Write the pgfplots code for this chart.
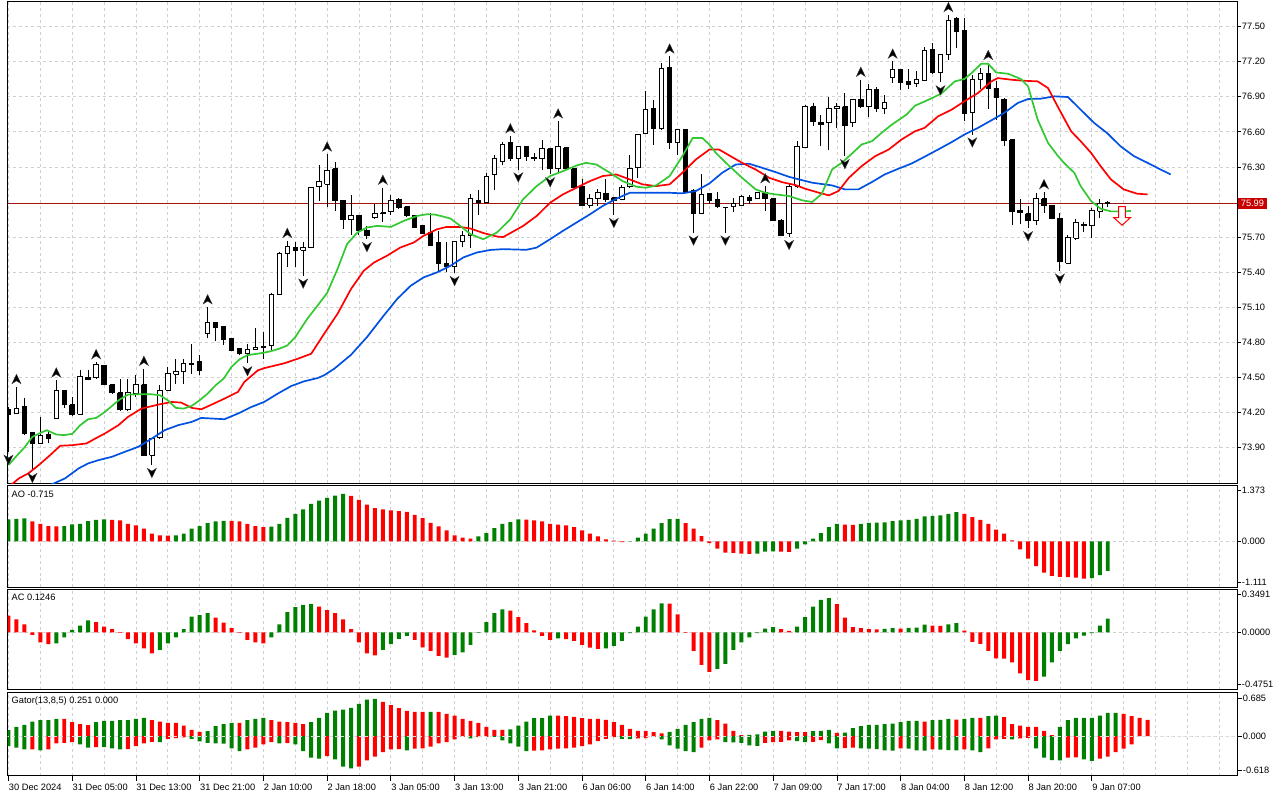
\documentclass[border=0pt]{standalone}
\usepackage{fontspec}
\setmainfont{Liberation Sans}
\usepackage{pgfplots}
\usepackage{pgfplotstable}
\pgfplotsset{compat=1.18}

\definecolor{mtgreen}{RGB}{0,128,0}
\definecolor{mtred}{RGB}{255,0,0}
\definecolor{jawblue}{RGB}{0,80,225}
\definecolor{teethred}{RGB}{255,0,0}
\definecolor{lipsgreen}{RGB}{50,200,50}
\definecolor{gridgray}{RGB}{208,208,208}
\definecolor{pxline}{RGB}{160,20,20}
\definecolor{pxbox}{RGB}{200,0,0}

\newcommand\mtf{\fontsize{9.3bp}{11bp}\selectfont}

\pgfdeclareplotmark{fup}{%
  \pgfpathmoveto{\pgfpoint{0bp}{12.7bp}}%
  \pgfpathlineto{\pgfpoint{4.5bp}{3.3bp}}%
  \pgfpathlineto{\pgfpoint{0bp}{6.2bp}}%
  \pgfpathlineto{\pgfpoint{-4.5bp}{3.3bp}}%
  \pgfpathclose
  \pgfusepathqfillstroke}
\pgfdeclareplotmark{fdown}{%
  \pgfpathmoveto{\pgfpoint{0bp}{-12.7bp}}%
  \pgfpathlineto{\pgfpoint{4.5bp}{-3.3bp}}%
  \pgfpathlineto{\pgfpoint{0bp}{-6.2bp}}%
  \pgfpathlineto{\pgfpoint{-4.5bp}{-3.3bp}}%
  \pgfpathclose
  \pgfusepathqfillstroke}
\pgfdeclareplotmark{sellarrow}{%
  \pgfpathmoveto{\pgfpoint{-3.4bp}{9.4bp}}%
  \pgfpathlineto{\pgfpoint{3.4bp}{9.4bp}}%
  \pgfpathlineto{\pgfpoint{3.4bp}{-1.6bp}}%
  \pgfpathlineto{\pgfpoint{8.5bp}{-1.6bp}}%
  \pgfpathlineto{\pgfpoint{0bp}{-9.3bp}}%
  \pgfpathlineto{\pgfpoint{-8.5bp}{-1.6bp}}%
  \pgfpathlineto{\pgfpoint{-3.4bp}{-1.6bp}}%
  \pgfpathclose
  \pgfusepathqfillstroke}

% ---------- candles (H1) ----------
\pgfplotstableread{
k o h l c
0 74.224 74.247 73.863 74.185
1 74.193 74.418 74.187 74.233
2 74.247 74.324 74.006 74.020
3 74.028 74.034 73.707 73.935
4 73.935 74.162 73.935 74.006
5 74.011 74.054 73.935 73.977
6 74.148 74.474 74.142 74.384
7 74.384 74.389 74.241 74.267
8 74.267 74.332 74.170 74.182
9 74.185 74.565 74.182 74.511
10 74.503 74.560 74.474 74.483
11 74.497 74.631 74.489 74.608
12 74.602 74.608 74.432 74.438
13 74.438 74.443 74.361 74.369
14 74.369 74.489 74.210 74.224
15 74.224 74.489 74.210 74.367
16 74.361 74.517 74.332 74.438
17 74.438 74.574 73.835 73.835
18 73.835 73.983 73.750 73.977
19 73.983 74.432 73.977 74.389
20 74.389 74.588 74.381 74.531
21 74.528 74.659 74.446 74.546
22 74.546 74.659 74.446 74.617
23 74.622 74.787 74.531 74.608
24 74.640 74.688 74.517 74.560
25 74.872 75.100 74.835 74.966
26 74.966 74.972 74.815 74.929
27 74.935 74.938 74.778 74.824
28 74.835 74.841 74.722 74.730
29 74.744 74.750 74.688 74.707
30 74.707 74.787 74.620 74.736
31 74.739 74.920 74.730 74.758
32 74.767 74.892 74.660 74.753
33 74.773 75.222 74.730 75.213
34 75.213 75.574 75.208 75.563
35 75.560 75.668 75.446 75.620
36 75.611 75.654 75.446 75.588
37 75.586 75.654 75.370 75.611
38 75.608 76.131 75.603 76.123
39 76.131 76.313 76.009 76.174
40 76.151 76.407 75.961 76.273
41 76.285 76.344 75.924 76.009
42 76.015 76.020 75.773 75.847
43 75.850 76.057 75.716 75.887
44 75.887 75.892 75.716 75.753
45 75.759 75.796 75.682 75.711
46 75.867 75.981 75.858 75.901
47 75.910 76.123 75.830 75.901
48 75.918 76.057 75.890 76.015
49 76.023 76.037 75.944 75.952
50 75.961 75.966 75.875 75.881
51 75.887 75.892 75.776 75.782
52 75.796 75.802 75.725 75.730
53 75.739 75.910 75.625 75.631
54 75.654 75.753 75.404 75.475
55 75.475 75.654 75.398 75.446
56 75.449 75.668 75.392 75.662
57 75.659 75.753 75.611 75.716
58 75.716 76.066 75.605 76.029
59 76.017 76.103 75.887 76.000
60 76.000 76.251 76.000 76.222
61 76.236 76.398 76.102 76.370
62 76.350 76.511 76.313 76.490
63 76.506 76.563 76.355 76.372
64 76.369 76.477 76.278 76.472
65 76.472 76.477 76.355 76.392
66 76.384 76.415 76.349 76.369
67 76.369 76.534 76.278 76.455
68 76.457 76.463 76.236 76.284
69 76.284 76.690 76.256 76.472
70 76.463 76.466 76.278 76.284
71 76.284 76.293 76.114 76.122
72 76.136 76.193 75.974 75.974
73 75.974 76.065 75.946 76.028
74 76.028 76.114 75.966 76.079
75 76.074 76.193 76.000 76.023
76 76.037 76.045 75.889 76.017
77 76.023 76.142 76.017 76.122
78 76.131 76.398 76.122 76.284
79 76.293 76.577 76.207 76.577
80 76.582 76.946 76.582 76.790
81 76.796 76.875 76.491 76.625
82 76.625 77.188 76.619 77.145
83 77.154 77.245 76.455 76.511
84 76.511 76.625 76.398 76.619
85 76.619 76.625 76.079 76.079
86 76.102 76.108 75.738 75.900
87 75.900 76.236 75.895 76.065
88 76.071 76.071 75.980 76.017
89 76.023 76.085 75.946 75.960
90 75.957 75.957 75.738 75.952
91 75.960 76.037 75.915 75.986
92 75.974 76.057 75.966 76.051
93 76.037 76.060 75.980 76.017
94 76.028 76.088 76.023 76.079
95 76.079 76.136 75.923 76.028
96 76.028 76.028 75.838 75.844
97 75.846 75.852 75.710 75.710
98 75.733 76.151 75.700 76.136
99 76.136 76.520 76.122 76.472
100 76.463 76.833 76.460 76.813
101 76.813 76.847 76.654 76.690
102 76.682 76.747 76.477 76.662
103 76.676 76.898 76.443 76.804
104 76.796 76.847 76.634 76.813
105 76.813 76.932 76.392 76.654
106 76.676 76.881 76.642 76.881
107 76.881 77.046 76.804 76.813
108 76.813 77.012 76.728 76.966
109 76.966 76.981 76.767 76.804
110 76.804 76.918 76.753 76.855
111 77.069 77.202 77.018 77.137
112 77.131 77.131 76.955 77.023
113 77.029 77.137 76.966 77.009
114 77.018 77.117 76.983 77.052
115 77.040 77.330 77.040 77.296
116 77.302 77.364 77.097 77.108
117 77.108 77.259 77.023 77.259
118 77.259 77.600 77.216 77.552
119 77.572 77.580 77.316 77.458
120 77.464 77.572 76.691 76.756
121 76.767 77.089 76.577 77.046
122 77.046 77.150 76.966 77.103
123 77.097 77.190 76.796 76.975
124 76.975 77.032 76.705 76.898
125 76.881 76.890 76.483 76.529
126 76.534 76.534 75.800 75.918
127 75.929 76.028 75.810 75.909
128 75.901 75.966 75.775 75.838
129 75.838 76.074 75.801 76.028
130 76.028 76.085 75.909 75.972
131 75.972 75.972 75.852 75.858
132 75.861 75.909 75.412 75.489
133 75.477 75.716 75.469 75.696
134 75.690 75.858 75.676 75.824
135 75.795 75.832 75.747 75.804
136 75.795 75.952 75.690 75.929
137 75.923 76.023 75.866 75.989
138 75.988 76.008 75.960 75.994
}\candles

% ---------- alligator ----------
\pgfplotstableread{
k v
0 73.440
3 73.520
5.7 73.593
7.1 73.636
8.8 73.721
10 73.764
11.3 73.792
13 73.821
14.6 73.863
16.3 73.906
18 73.977
19.6 74.048
21.3 74.091
23 74.119
24.2 74.153
25.5 74.148
27.1 74.142
28.8 74.190
30.5 74.247
32.1 74.290
33.8 74.361
35.5 74.426
37.1 74.466
38.8 74.494
39.6 74.517
40.9 74.574
43 74.693
45 74.844
47.1 75.028
48.8 75.171
50.5 75.284
52.1 75.355
53.8 75.398
55.5 75.455
57.1 75.526
58.8 75.568
60.5 75.590
62.1 75.597
65 75.591
66.3 75.610
68 75.682
69.6 75.753
71.3 75.824
73 75.895
74.6 75.966
76.3 76.028
78 76.079
80.5 76.079
83 76.079
84.6 76.074
86.3 76.094
88 76.159
89.6 76.250
91.3 76.321
93 76.327
94.6 76.293
96.3 76.256
98 76.215
99.6 76.187
100.9 76.165
103.4 76.142
105 76.108
106.7 76.108
108.4 76.171
110 76.236
111.7 76.284
113.4 76.330
115 76.387
116.7 76.449
118.4 76.512
120 76.577
121.7 76.634
123.4 76.699
125 76.762
126.7 76.847
128 76.881
129.6 76.884
131.3 76.904
133 76.898
134.6 76.790
136.3 76.676
138 76.585
139.6 76.477
141.3 76.392
143 76.335
144.6 76.279
145.9 76.236
}\jaw

\pgfplotstableread{
k v
0 73.560
1.3 73.636
2.5 73.679
3.8 73.750
5 73.821
6.5 73.915
8 73.920
9.8 73.935
10.9 73.977
12.1 74.020
13.8 74.091
15 74.162
16.7 74.233
18.8 74.267
20.5 74.290
21.7 74.284
23 74.239
24.2 74.227
25.5 74.267
27.1 74.318
28.8 74.375
29.6 74.460
31.3 74.560
32.1 74.579
34.6 74.620
36.3 74.659
38 74.702
39.6 74.870
41.3 75.043
43 75.256
44.6 75.412
45.9 75.483
47.5 75.540
49.2 75.611
50.9 75.654
52.1 75.711
53.8 75.767
55 75.787
56.7 75.787
58 75.773
59.6 75.735
61.3 75.705
62.1 75.700
64.6 75.795
66.3 75.880
68 75.994
69.6 76.065
71.3 76.122
73 76.179
74.6 76.222
76.3 76.236
78 76.193
79.6 76.151
81.3 76.136
83 76.151
84.6 76.250
86.3 76.364
88 76.449
89.2 76.449
90.5 76.398
92.1 76.335
93.8 76.278
95.5 76.207
97.1 76.170
98.8 76.145
100 76.114
101.7 76.080
103 76.057
104.2 76.094
105.5 76.207
107.1 76.307
108.8 76.392
110.5 76.449
112.1 76.534
113.8 76.605
115 76.634
116.7 76.733
118.4 76.790
120 76.861
121.7 76.932
123.4 77.032
124.2 77.060
125.9 77.046
127.5 77.037
129.2 77.032
130.5 76.975
131.7 76.819
133.4 76.605
134.6 76.520
135.9 76.421
137.1 76.307
138.4 76.193
140 76.108
141.7 76.071
143 76.065
}\teeth

\pgfplotstableread{
k v
0 73.750
1 73.827
2 73.900
3 73.991
4 74.025
4.8 74.048
6 74.011
7 74.006
8 74.017
9 74.091
10 74.142
11 74.153
12 74.199
13 74.256
14 74.313
15 74.352
16 74.355
18 74.355
19 74.347
20 74.304
21 74.239
22 74.233
23 74.256
24 74.304
25 74.361
26 74.432
27 74.489
28 74.590
29 74.654
30 74.690
31 74.700
32 74.710
33 74.725
34 74.745
35 74.773
36 74.844
37.5 75.000
38.8 75.114
40 75.222
41.3 75.426
42.5 75.640
43.8 75.739
45 75.782
46.3 75.796
48 75.787
49.6 75.838
51.3 75.881
52.5 75.895
53.5 75.893
54.6 75.875
55.5 75.858
56.7 75.796
58 75.725
59.6 75.682
61.3 75.738
63 75.852
64.6 76.023
66.3 76.136
68 76.222
69.6 76.264
71.3 76.312
72.5 76.335
73.8 76.321
75.5 76.250
77.1 76.179
78.8 76.131
80 76.122
81.3 76.142
83 76.222
84.6 76.392
85.9 76.548
87.1 76.548
88 76.491
88.8 76.420
90.5 76.307
92.1 76.207
93.8 76.108
95 76.079
96.3 76.065
98 76.051
99.6 76.015
100.9 76.000
102.1 76.070
103.4 76.279
104.6 76.335
105.9 76.415
107.1 76.492
108.4 76.520
109.6 76.591
110.9 76.662
112.75 76.748
113.8 76.824
115.5 76.875
117.1 76.927
118.8 77.032
120 77.052
120.9 77.103
122.1 77.182
123 77.182
124 77.108
125.5 77.097
127.1 77.052
128 76.989
129.2 76.705
130.5 76.506
131.7 76.398
132.5 76.335
133.8 76.250
134.6 76.136
135.9 76.009
137.1 75.943
138.4 75.920
139.6 75.920
140.9 75.923
}\lips

\pgfplotstableread{
k v
1 74.418
6 74.474
11 74.631
17 74.574
25 75.100
35 75.668
40 76.407
47 76.123
63 76.563
69 76.690
83 77.245
95 76.136
107 77.046
111 77.202
118 77.600
123 77.190
130 76.085
}\fracup

\pgfplotstableread{
k v
0 73.863
3 73.707
18 73.750
30 74.620
37 75.370
45 75.682
56 75.392
64 76.278
68 76.236
76 75.889
86 75.738
90 75.738
98 75.700
105 76.392
117 77.023
121 76.577
128 75.775
132 75.412
}\fracdown

% ---------- AO ----------
\pgfplotstableread{
k v c
0 0.588 1
1 0.606 1
2 0.615 1
3 0.535 0
4 0.472 0
5 0.410 0
6 0.401 0
7 0.410 1
8 0.455 1
9 0.472 1
10 0.544 1
11 0.579 1
12 0.588 1
13 0.579 0
14 0.561 0
15 0.472 0
16 0.428 0
17 0.339 0
18 0.205 0
19 0.160 0
20 0.152 0
21 0.160 1
22 0.205 1
23 0.339 1
24 0.410 1
25 0.490 1
26 0.535 1
27 0.553 1
28 0.548 0
29 0.535 0
30 0.472 0
31 0.410 0
32 0.383 0
33 0.392 1
34 0.472 1
35 0.633 1
36 0.740 1
37 0.856 1
38 1.007 1
39 1.096 1
40 1.168 1
41 1.230 1
42 1.275 1
43 1.221 0
44 1.114 0
45 0.989 0
46 0.891 0
47 0.856 0
48 0.829 0
49 0.811 0
50 0.793 0
51 0.713 0
52 0.624 0
53 0.499 0
54 0.401 0
55 0.294 0
56 0.160 0
57 0.098 0
58 0.071 0
59 0.134 1
60 0.223 1
61 0.357 1
62 0.472 1
63 0.517 1
64 0.588 1
65 0.584 0
66 0.561 0
67 0.535 0
68 0.472 0
69 0.446 0
70 0.428 0
71 0.383 0
72 0.294 0
73 0.205 0
74 0.134 0
75 0.053 0
76 0.018 0
77 -0.018 0
78 0.009 1
79 0.098 1
80 0.205 1
81 0.339 1
82 0.490 1
83 0.597 1
84 0.606 1
85 0.490 0
86 0.339 0
87 0.143 0
88 -0.045 0
89 -0.196 0
90 -0.303 0
91 -0.312 0
92 -0.330 0
93 -0.339 0
94 -0.330 1
95 -0.276 1
96 -0.267 1
97 -0.276 0
98 -0.285 0
99 -0.196 1
100 -0.080 1
101 0.071 1
102 0.223 1
103 0.383 1
104 0.472 1
105 0.446 0
106 0.441 0
107 0.472 1
108 0.499 1
109 0.504 1
110 0.508 1
111 0.544 1
112 0.561 1
113 0.579 1
114 0.606 1
115 0.668 1
116 0.686 1
117 0.695 1
118 0.740 1
119 0.784 1
120 0.740 0
121 0.651 0
122 0.579 0
123 0.472 0
124 0.312 0
125 0.205 0
126 0.027 0
127 -0.214 0
128 -0.463 0
129 -0.668 0
130 -0.838 0
131 -0.927 0
132 -0.954 0
133 -0.963 0
134 -0.971 0
135 -0.998 0
136 -0.989 1
137 -0.909 1
138 -0.790 1
}\aotab

% ---------- AC ----------
\pgfplotstableread{
k v c
0 0.153 0
1 0.119 0
2 0.073 0
3 -0.024 0
4 -0.092 0
5 -0.110 0
6 -0.101 1
7 -0.046 1
8 0.021 1
9 0.061 1
10 0.110 1
11 0.092 0
12 0.052 0
13 0.028 0
14 -0.006 0
15 -0.064 0
16 -0.101 0
17 -0.147 0
18 -0.193 0
19 -0.162 1
20 -0.101 1
21 -0.046 1
22 0.028 1
23 0.144 1
24 0.156 1
25 0.175 1
26 0.135 0
27 0.089 0
28 0.037 0
29 -0.006 0
30 -0.070 0
31 -0.092 0
32 -0.101 0
33 -0.046 1
34 0.073 1
35 0.184 1
36 0.230 1
37 0.251 1
38 0.257 1
39 0.236 0
40 0.202 0
41 0.175 0
42 0.119 0
43 0.028 0
44 -0.092 0
45 -0.193 0
46 -0.211 0
47 -0.162 1
48 -0.110 1
49 -0.061 1
50 -0.034 1
51 -0.070 0
52 -0.138 0
53 -0.171 0
54 -0.217 0
55 -0.233 0
56 -0.208 1
57 -0.184 1
58 -0.116 1
59 -0.006 1
60 0.092 1
61 0.175 1
62 0.211 1
63 0.199 0
64 0.138 0
65 0.083 0
66 0.018 0
67 -0.034 0
68 -0.070 0
69 -0.055 1
70 -0.064 0
71 -0.080 0
72 -0.116 0
73 -0.140 0
74 -0.153 0
75 -0.147 1
76 -0.126 1
77 -0.080 1
78 -0.009 1
79 0.052 1
80 0.144 1
81 0.211 1
82 0.266 1
83 0.262 0
84 0.165 0
85 -0.006 0
86 -0.171 0
87 -0.300 0
88 -0.364 0
89 -0.337 1
90 -0.291 1
91 -0.162 1
92 -0.092 1
93 -0.046 1
94 -0.009 1
95 0.034 1
96 0.046 1
97 0.028 0
98 0.012 0
99 0.052 1
100 0.138 1
101 0.236 1
102 0.297 1
103 0.312 1
104 0.257 0
105 0.135 0
106 0.046 0
107 0.037 0
108 0.028 0
109 0.027 0
110 0.031 1
111 0.037 1
112 0.034 0
113 0.040 1
114 0.043 1
115 0.070 1
116 0.061 0
117 0.058 0
118 0.073 1
119 0.083 1
120 0.015 0
121 -0.089 0
122 -0.107 0
123 -0.171 0
124 -0.239 0
125 -0.242 0
126 -0.276 0
127 -0.377 0
128 -0.438 0
129 -0.447 0
130 -0.407 1
131 -0.276 1
132 -0.171 1
133 -0.110 1
134 -0.055 1
135 -0.031 1
136 -0.009 1
137 0.061 1
138 0.1246 1
}\actab

% ---------- Gator upper ----------
\pgfplotstableread{
k v c
0 0.107 1
1 0.167 1
2 0.202 1
3 0.262 1
4 0.286 1
5 0.287 1
6 0.310 1
7 0.309 0
8 0.250 0
9 0.214 0
10 0.196 0
11 0.250 1
12 0.274 1
13 0.275 1
14 0.286 1
15 0.287 1
16 0.310 1
17 0.327 1
18 0.286 0
19 0.262 0
20 0.238 0
21 0.237 0
22 0.190 0
23 0.113 0
24 0.077 0
25 0.089 1
26 0.179 1
27 0.214 1
28 0.238 1
29 0.237 0
30 0.286 1
31 0.310 1
32 0.327 1
33 0.286 0
34 0.262 0
35 0.250 0
36 0.238 0
37 0.214 0
38 0.250 1
39 0.327 1
40 0.417 1
41 0.458 1
42 0.476 1
43 0.506 1
44 0.577 1
45 0.655 1
46 0.667 1
47 0.613 0
48 0.554 0
49 0.500 0
50 0.452 0
51 0.435 0
52 0.434 0
53 0.436 1
54 0.433 0
55 0.399 0
56 0.369 0
57 0.310 0
58 0.274 0
59 0.238 0
60 0.167 0
61 0.113 0
62 0.112 0
63 0.119 1
64 0.190 1
65 0.262 1
66 0.321 1
67 0.322 1
68 0.369 1
69 0.368 0
70 0.357 0
71 0.345 0
72 0.321 0
73 0.310 0
74 0.309 0
75 0.290 0
76 0.250 0
77 0.202 0
78 0.131 0
79 0.095 0
80 0.094 0
81 0.071 0
82 0.048 0
83 0.077 1
84 0.131 1
85 0.202 1
86 0.250 1
87 0.310 1
88 0.327 1
89 0.286 0
90 0.226 0
91 0.095 0
92 0.018 0
93 0.024 1
94 0.030 1
95 0.083 1
96 0.095 1
97 0.094 0
98 0.083 0
99 0.071 0
100 0.070 0
101 0.089 1
102 0.095 1
103 0.113 1
104 0.060 0
105 0.065 1
106 0.143 1
107 0.179 1
108 0.202 1
109 0.203 1
110 0.214 1
111 0.226 1
112 0.250 1
113 0.274 1
114 0.275 1
115 0.262 0
116 0.286 1
117 0.292 1
118 0.310 1
119 0.298 0
120 0.310 1
121 0.327 1
122 0.326 0
123 0.357 1
124 0.369 1
125 0.339 0
126 0.214 0
127 0.190 0
128 0.167 0
129 0.166 0
130 0.095 0
131 0.018 0
132 0.167 1
133 0.286 1
134 0.327 1
135 0.328 1
136 0.329 1
137 0.369 1
138 0.417 1
139 0.418 1
140 0.399 0
141 0.357 0
142 0.327 0
143 0.292 0
}\gatup

% ---------- Gator lower ----------
\pgfplotstableread{
k v c
0 -0.179 1
1 -0.208 1
2 -0.238 1
3 -0.236 0
4 -0.256 1
5 -0.238 0
6 -0.131 0
7 -0.119 0
8 -0.107 0
9 -0.149 1
10 -0.208 1
11 -0.196 0
12 -0.199 1
13 -0.220 1
14 -0.238 1
15 -0.235 0
16 -0.179 0
17 -0.131 0
18 -0.101 0
19 -0.107 1
20 -0.048 0
21 -0.036 0
22 -0.024 0
23 -0.048 1
24 -0.095 1
25 -0.119 1
26 -0.131 1
27 -0.134 1
28 -0.220 1
29 -0.268 1
30 -0.238 0
31 -0.208 0
32 -0.149 0
33 -0.107 0
34 -0.131 1
35 -0.125 0
36 -0.149 1
37 -0.268 1
38 -0.387 1
39 -0.405 1
40 -0.357 0
41 -0.417 1
42 -0.548 1
43 -0.577 1
44 -0.548 0
45 -0.435 0
46 -0.369 0
47 -0.286 0
48 -0.238 0
49 -0.235 0
50 -0.256 1
51 -0.226 0
52 -0.220 0
53 -0.190 0
54 -0.131 0
55 -0.107 0
56 -0.060 0
57 -0.012 0
58 -0.042 1
59 -0.018 0
60 -0.012 0
61 -0.015 1
62 -0.077 1
63 -0.131 1
64 -0.190 1
65 -0.268 1
66 -0.262 0
67 -0.256 0
68 -0.238 0
69 -0.226 0
70 -0.220 0
71 -0.208 0
72 -0.179 0
73 -0.149 0
74 -0.089 0
75 -0.048 0
76 -0.018 0
77 -0.048 1
78 -0.054 1
79 -0.042 0
80 -0.036 0
81 -0.012 0
82 -0.060 1
83 -0.167 1
84 -0.226 1
85 -0.268 1
86 -0.286 1
87 -0.208 0
88 -0.077 0
89 -0.060 0
90 -0.107 1
91 -0.113 1
92 -0.119 1
93 -0.167 1
94 -0.173 1
95 -0.119 0
96 -0.107 0
97 -0.101 0
98 -0.077 0
99 -0.089 1
100 -0.107 1
101 -0.101 0
102 -0.071 0
103 -0.131 1
104 -0.220 1
105 -0.214 0
106 -0.208 0
107 -0.220 1
108 -0.226 1
109 -0.232 1
110 -0.256 1
111 -0.262 1
112 -0.220 0
113 -0.226 1
114 -0.256 1
115 -0.262 1
116 -0.238 0
117 -0.244 1
118 -0.250 1
119 -0.256 1
120 -0.238 0
121 -0.256 1
122 -0.286 1
123 -0.220 0
124 -0.060 0
125 -0.048 0
126 -0.060 1
127 -0.042 0
128 -0.030 0
129 -0.220 1
130 -0.387 1
131 -0.429 1
132 -0.435 1
133 -0.387 0
134 -0.381 0
135 -0.417 1
136 -0.446 1
137 -0.405 0
138 -0.369 0
139 -0.286 0
140 -0.226 0
141 -0.149 0
}\gatlow

\pgfplotsset{
  mtpanel/.style={
    scale only axis, width=1235bp, xmin=-0.125, xmax=154.25,
    axis line style={black, line width=1bp},
    ytick pos=right, yticklabel pos=right, xtick pos=bottom,
    tick align=outside, major tick length=4bp, minor tick length=0pt,
    tick style={black, line width=0.8bp},
    xmajorgrids,
    grid style={gridgray, dash pattern=on 3bp off 3bp, line width=0.8bp},
    tick label style={font=\mtf, inner sep=0.6bp},
    yticklabel style={anchor=west},
    clip=true,
  },
  noxlabels/.style={xtick={0,4,...,152}, xticklabels={}, xtick style={draw=none}},
  greenbars/.style={ybar, bar width=4bp, bar shift=0pt, draw=none, fill=mtgreen,
    restrict expr to domain={\thisrow{c}}{0.5:1.5}, unbounded coords=discard, forget plot},
  redbars/.style={ybar, bar width=4bp, bar shift=0pt, draw=none, fill=mtred,
    restrict expr to domain={\thisrow{c}}{-0.5:0.5}, unbounded coords=discard, forget plot},
  zeroline/.style={extra y ticks={0}, extra y tick style={grid=major}},
}

\begin{document}
\pgfplotstablegetrowsof{\candles}
\pgfmathtruncatemacro{\nlast}{\pgfplotsretval-1}
\begin{tikzpicture}
\path[use as bounding box] (0,0) rectangle (1280bp,800bp);

% ===== main price panel =====
\begin{axis}[mtpanel, noxlabels,
  at={(2bp,314.5bp)}, anchor=south west, height=483.5bp,
  ymin=73.593, ymax=77.711, ymajorgrids,
  ytick={73.9,74.2,74.5,74.8,75.1,75.4,75.7,76.3,76.6,76.9,77.2,77.5},
  yticklabels={73.90,74.20,74.50,74.80,75.10,75.40,75.70,76.30,76.60,76.90,77.20,77.50},
  extra y ticks={75.99}, extra y tick labels={75.99},
  extra y tick style={grid=none, major tick length=0pt,
    yticklabel style={fill=pxbox, text=white, inner xsep=3bp, inner ysep=2.2bp, xshift=0.5bp}},
]
\addplot[pxline, line width=1bp, forget plot] coordinates {(-1,75.99) (156,75.99)};
\pgfplotsinvokeforeach{0,...,\nlast}{%
  \pgfplotstablegetelem{#1}{k}\of\candles\edef\cndK{\pgfplotsretval}%
  \pgfplotstablegetelem{#1}{o}\of\candles\edef\cndO{\pgfplotsretval}%
  \pgfplotstablegetelem{#1}{h}\of\candles\edef\cndH{\pgfplotsretval}%
  \pgfplotstablegetelem{#1}{l}\of\candles\edef\cndL{\pgfplotsretval}%
  \pgfplotstablegetelem{#1}{c}\of\candles\edef\cndC{\pgfplotsretval}%
  \pgfmathsetmacro{\cndXa}{\cndK-0.28}%
  \pgfmathsetmacro{\cndXb}{\cndK+0.28}%
  \ifdim\cndC pt<\cndO pt \def\cndFill{black}\else\def\cndFill{white}\fi
  \edef\cndDo{%
    \noexpand\addplot[black, line width=1bp, forget plot] coordinates {(\cndK,\cndL) (\cndK,\cndH)};%
    \noexpand\addplot[draw=black, fill=\cndFill, line width=1bp, forget plot] coordinates {(\cndXa,\cndO) (\cndXb,\cndO) (\cndXb,\cndC) (\cndXa,\cndC) (\cndXa,\cndO)};%
  }%
  \cndDo
}
\addplot[jawblue, line width=1.7bp, forget plot] table[x=k,y=v]{\jaw};
\addplot[teethred, line width=1.7bp, forget plot] table[x=k,y=v]{\teeth};
\addplot[lipsgreen, line width=1.7bp, forget plot] table[x=k,y=v]{\lips};
\addplot[only marks, mark=fup, mark options={fill=black, draw=black!80, line width=0.4bp}, forget plot] table[x=k,y=v]{\fracup};
\addplot[only marks, mark=fdown, mark options={fill=black, draw=black!80, line width=0.4bp}, forget plot] table[x=k,y=v]{\fracdown};
\addplot[only marks, mark=sellarrow, mark options={fill=white, draw=red, line width=1bp}, forget plot] coordinates {(139.8,75.881)};
\end{axis}

% ===== AO =====
\begin{axis}[mtpanel, noxlabels, zeroline,
  at={(2bp,210bp)}, anchor=south west, height=102bp,
  ymin=-1.238, ymax=1.489,
  ytick={-1.111,1.373}, yticklabels={-1.111,1.373},
  extra y tick labels={0.000},
]
\addplot[greenbars] table[x=k,y=v]{\aotab};
\addplot[redbars] table[x=k,y=v]{\aotab};
\node[anchor=north west, inner sep=0pt, font=\mtf] at (rel axis cs:0,1) [xshift=4bp, yshift=-4.5bp] {AO -0.715};
\end{axis}

% ===== AC =====
\begin{axis}[mtpanel, noxlabels, zeroline,
  at={(2bp,107.3bp)}, anchor=south west, height=100.7bp,
  ymin=-0.527, ymax=0.3927,
  ytick={-0.4751,0.3491}, yticklabels={-0.4751,0.3491},
  extra y tick labels={0.0000},
]
\addplot[greenbars] table[x=k,y=v]{\actab};
\addplot[redbars] table[x=k,y=v]{\actab};
\node[anchor=north west, inner sep=0pt, font=\mtf] at (rel axis cs:0,1) [xshift=4bp, yshift=-4.5bp] {AC 0.1246};
\end{axis}

% ===== Gator =====
\begin{axis}[mtpanel, zeroline,
  at={(2bp,20.7bp)}, anchor=south west, height=84bp,
  ymin=-0.714, ymax=0.786,
  ytick={-0.618,0.685}, yticklabels={-0.618,0.685},
  extra y tick labels={0.000},
  xtick={0,8,...,136}, major tick length=5bp,
  xticklabels={30 Dec 2024,31 Dec 05:00,31 Dec 13:00,31 Dec 21:00,2 Jan 10:00,2 Jan 18:00,3 Jan 05:00,3 Jan 13:00,3 Jan 21:00,6 Jan 06:00,6 Jan 14:00,6 Jan 22:00,7 Jan 09:00,7 Jan 17:00,8 Jan 04:00,8 Jan 12:00,8 Jan 20:00,9 Jan 07:00},
  minor xtick={4,12,...,132,140,144,148,152}, xminorgrids,
  xticklabel style={anchor=north west, xshift=-0.3bp, yshift=-2.5bp},
]
\addplot[greenbars] table[x=k,y=v]{\gatup};
\addplot[redbars] table[x=k,y=v]{\gatup};
\addplot[greenbars] table[x=k,y=v]{\gatlow};
\addplot[redbars] table[x=k,y=v]{\gatlow};
\addplot[gridgray!70, dash pattern=on 3bp off 3bp, line width=0.8bp, forget plot] coordinates {(-1,0) (156,0)};
\node[anchor=north west, inner sep=0pt, font=\mtf] at (rel axis cs:0,1) [xshift=4bp, yshift=-4.5bp] {Gator(13,8,5) 0.251 0.000};
\end{axis}
\end{tikzpicture}
\end{document}
